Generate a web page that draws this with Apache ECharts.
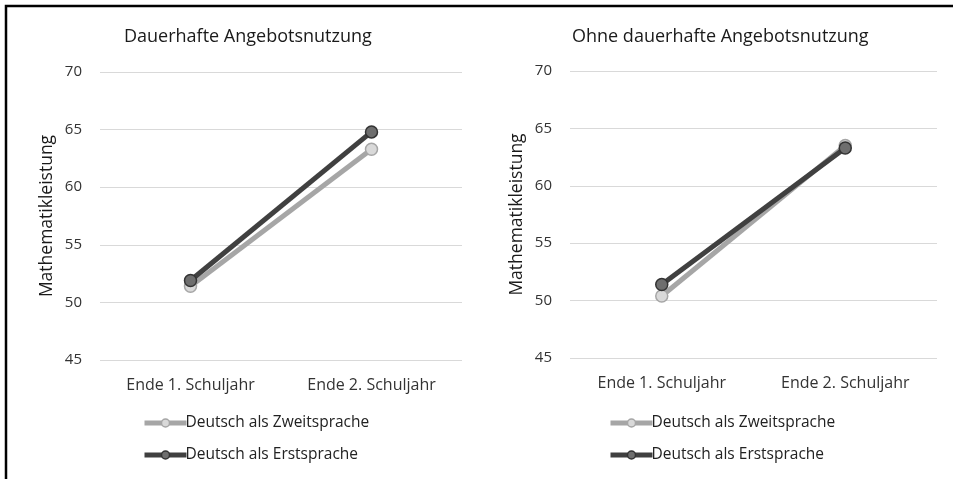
<!DOCTYPE html>
<html>
<head>
<meta charset="utf-8">
<script src="https://cdn.jsdelivr.net/npm/echarts@6/dist/echarts.min.js"></script>
<style>
  html, body { margin: 0; padding: 0; background: #fff; }
  #main { width: 953px; height: 479px; }
</style>
</head>
<body>
<div id="main"></div>
<script>
// Daten
var categories = ['Ende 1. Schuljahr', 'Ende 2. Schuljahr'];
var panelTitles = ['Dauerhafte Angebotsnutzung', 'Ohne dauerhafte Angebotsnutzung'];
var seriesNames = ['Deutsch als Zweitsprache', 'Deutsch als Erstsprache'];
var yTicks = [45, 50, 55, 60, 65, 70];
// Dauerhafte Angebotsnutzung
var dauerZweit = [51.4, 63.3];
var dauerErst = [51.9, 64.8];
// Ohne dauerhafte Angebotsnutzung
var ohneZweit = [50.4, 63.5];
var ohneErst = [51.4, 63.3];

var fontFam = '"Open Sans", "Noto Sans", sans-serif';
var textCol = '#333333';

var myChart = echarts.init(document.getElementById('main'));

function makeX(idx) {
    return {
        type: 'category',
        gridIndex: idx,
        data: categories,
        boundaryGap: true,
        axisLine: { show: false },
        axisTick: { show: false },
        axisLabel: { color: textCol, fontSize: 16, fontFamily: fontFam, margin: 17 }
    };
}
function makeY(idx) {
    return {
        type: 'value',
        gridIndex: idx,
        min: yTicks[0],
        max: yTicks[yTicks.length - 1],
        interval: 5,
        name: 'Mathematikleistung',
        nameLocation: 'middle',
        nameGap: 44,
        nameTextStyle: { color: '#1a1a1a', fontSize: 17.5, fontFamily: fontFam },
        axisLine: { show: false },
        axisTick: { show: false },
        splitLine: { lineStyle: { color: '#d9d9d9', width: 1 } },
        axisLabel: { color: textCol, fontSize: 15, fontFamily: fontFam, margin: 18 }
    };
}
function makeSeries(name, data, idx, dark) {
    return {
        name: name,
        type: 'line',
        xAxisIndex: idx,
        yAxisIndex: idx,
        data: data,
        symbol: 'circle',
        symbolSize: 12,
        z: dark ? 3 : 2,
        lineStyle: { width: 5, color: dark ? '#404040' : '#a6a6a6' },
        itemStyle: {
            color: dark ? '#6e6e6e' : '#d9d9d9',
            borderColor: dark ? '#333333' : '#a6a6a6',
            borderWidth: 1.5
        }
    };
}
function makeLegend(left, idx) {
    return {
        orient: 'vertical',
        left: left,
        top: 410,
        itemWidth: 42,
        itemHeight: 10,
        itemGap: 16,
        lineStyle: { width: 5 },
        itemStyle: { borderWidth: 1.5 },
        textStyle: { color: '#222222', fontSize: 15.5, fontFamily: fontFam, padding: [0, 0, 0, -6] },
        data: seriesNames.map(function (n) { return { name: n + (idx ? ' ' : '') }; })
    };
}

var option = {
    backgroundColor: '#fff',
    animation: false,
    title: [
        { text: panelTitles[0], left: 119, top: 23,
          textStyle: { color: '#1a1a1a', fontSize: 18, fontWeight: 'normal', fontFamily: fontFam } },
        { text: panelTitles[1], left: 567, top: 23,
          textStyle: { color: '#1a1a1a', fontSize: 18, fontWeight: 'normal', fontFamily: fontFam } }
    ],
    grid: [
        { left: 100, top: 72, width: 362, height: 288 },
        { left: 570, top: 71, width: 367, height: 287 }
    ],
    xAxis: [makeX(0), makeX(1)],
    yAxis: [makeY(0), makeY(1)],
    legend: [makeLegend(137, 0), makeLegend(603, 1)],
    series: [
        makeSeries(seriesNames[0], dauerZweit, 0, false),
        makeSeries(seriesNames[1], dauerErst, 0, true),
        makeSeries(seriesNames[0] + ' ', ohneZweit, 1, false),
        makeSeries(seriesNames[1] + ' ', ohneErst, 1, true)
    ],
    graphic: [
        { type: 'polyline', silent: true,
          shape: { points: [[6, 479], [6, 6], [953, 6]] },
          style: { stroke: '#000', lineWidth: 2.5, fill: null } }
    ]
};

myChart.setOption(option);
</script>
</body>
</html>
